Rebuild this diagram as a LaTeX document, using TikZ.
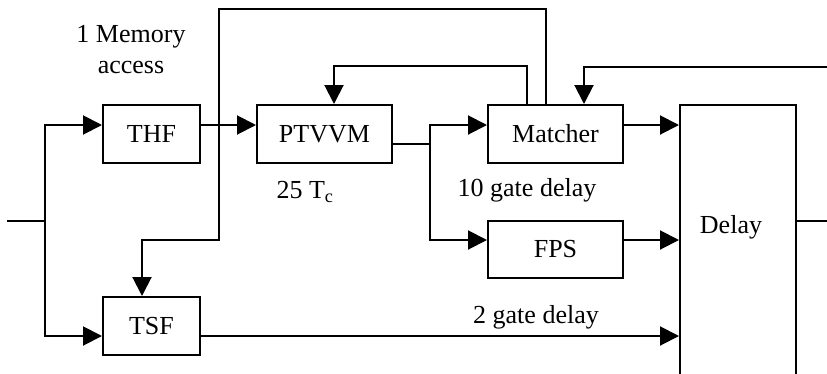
\documentclass[tikz,border=0pt]{standalone}
\usepackage{fontspec}
\setmainfont{Liberation Serif}
\usetikzlibrary{arrows.meta}
\begin{document}
\begin{tikzpicture}[x=1pt,y=-1pt,
  every node/.style={font=\fontsize{26}{31}\selectfont},
  blk/.style={draw,line width=2pt,inner sep=0pt,minimum height=58pt},
  wire/.style={line width=2pt},
  arr/.style={wire,-{Triangle[length=19pt,width=19pt]}},
  lbl/.style={inner sep=0pt,align=center}]
\useasboundingbox (0,0) rectangle (827,373);
\node[blk,minimum width=97pt] (THF) at (151.5,134) {THF};
\node[blk,minimum width=135pt] (PTVVM) at (324.5,134) {PTVVM};
\node[blk,minimum width=135pt] (Matcher) at (555.5,134) {Matcher};
\node[blk,minimum width=135pt,minimum height=57pt] (FPS) at (555.5,249.5) {FPS};
\node[blk,minimum width=97pt] (TSF) at (151.5,326) {TSF};
\node[blk,minimum width=116pt,minimum height=290pt] (Delay) at (738,250) {};
\node[lbl] (dl) at (731,227) {Delay};
\node[lbl] (mem) at (131,50) {1 Memory\\access};
\node[lbl] (tc) at (305,192) {25 T\textsubscript{c}};
\node[lbl] (g10) at (527,190) {10 gate delay};
\node[lbl] (g2) at (536,317) {2 gate delay};
% input
\coordinate (in) at (7,221);
\coordinate (sp) at (45,221);
\draw[wire] (in) -- (sp);
\coordinate (thfin) at ([yshift=9pt]THF.west);
\coordinate (tsfin) at ([yshift=-10pt]TSF.west);
\draw[arr] (sp) |- (thfin);
\draw[arr] (sp) |- (tsfin);
% THF -> PTVVM
\coordinate (thfout) at ([yshift=9pt]THF.east);
\draw[arr] (thfout) -- (thfout -| PTVVM.west);
% PTVVM -> Matcher / FPS
\coordinate (pout) at ([yshift=-10pt]PTVVM.east);
\coordinate (j2) at (430,144);
\draw[wire] (pout) -- (j2);
\coordinate (min) at ([yshift=9pt]Matcher.west);
\coordinate (fin) at ([yshift=9.5pt]FPS.west);
\draw[arr] (j2) |- (min);
\draw[arr] (j2) |- (fin);
% to Delay
\coordinate (mout) at ([yshift=9pt]Matcher.east);
\coordinate (fout) at ([yshift=9.5pt]FPS.east);
\coordinate (tout) at ([yshift=-10pt]TSF.east);
\draw[arr] (mout) -- (mout -| Delay.west);
\draw[arr] (fout) -- (fout -| Delay.west);
\draw[arr] (tout) -- (tout -| Delay.west);
% Delay output
\coordinate (dout) at (827,221);
\draw[wire] (dout -| Delay.east) -- (dout);
% memory feedback
\coordinate (mt1) at ([xshift=-9.5pt]Matcher.north);
\coordinate (tsft) at ([xshift=-9.5pt]TSF.north);
\draw[arr] (mt1) |- (219,9) |- (142,240) -- (tsft);
% matcher -> PTVVM feedback
\coordinate (mt2) at ([xshift=-28.5pt]Matcher.north);
\coordinate (pt1) at ([xshift=9.5pt]PTVVM.north);
\draw[arr] (mt2) -- ++(0,-38) -| (pt1);
% right feedback
\coordinate (rin) at (827,67);
\draw[arr] (rin) -| ([xshift=28.5pt]Matcher.north);
\end{tikzpicture}
\end{document}
